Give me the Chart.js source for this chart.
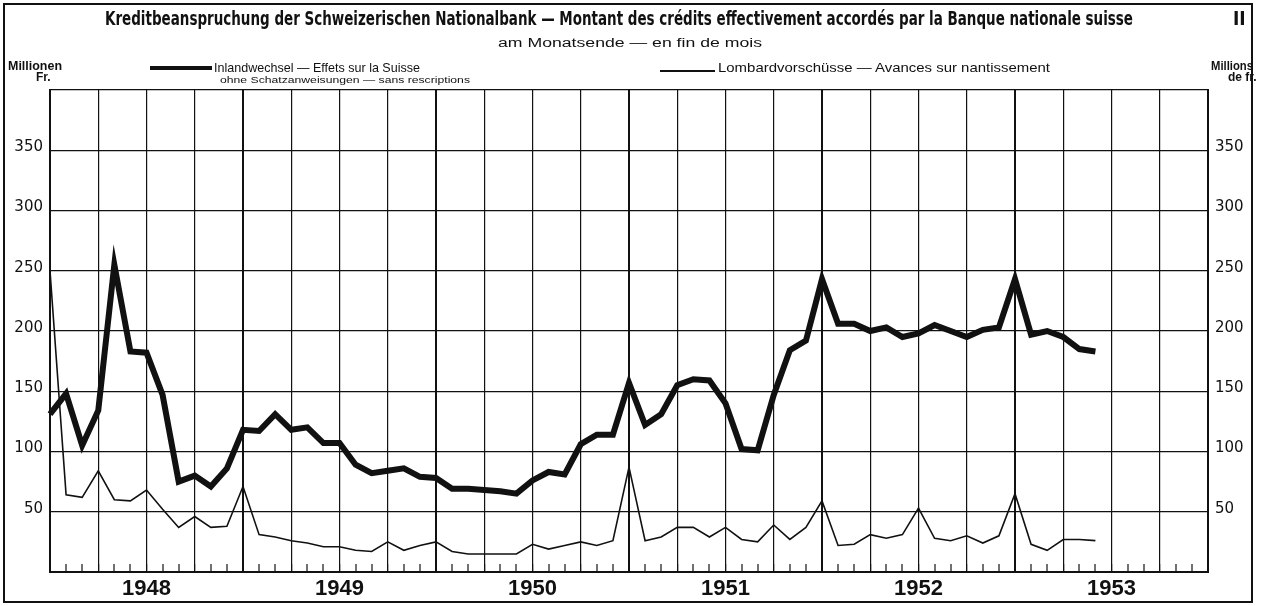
<!DOCTYPE html>
<html lang="de">
<head>
<meta charset="utf-8">
<title>Kreditbeanspruchung der Schweizerischen Nationalbank</title>
<script src="https://cdn.jsdelivr.net/npm/chart.js@4.4.1/dist/chart.umd.min.js"></script>
<style>
  html, body { margin: 0; padding: 0; background: #fff; }
  #blatt { position: relative; width: 1265px; height: 606px; overflow: hidden; color: #111;
           font-family: "Liberation Sans", Arial, sans-serif; }
  #rahmen { position: absolute; left: 3px; top: 3px; width: 1246px; height: 596px; border: 2px solid #111; }
  #grafik { position: absolute; left: 0; top: 0; }
  .txt { position: absolute; white-space: nowrap; line-height: 1; transform-origin: 0 0; }
  .titel { font-family: "Liberation Sans Narrow", "DejaVu Sans Condensed", sans-serif; font-weight: bold; font-size: 19px; }
  .linie { position: absolute; background: #111; }
</style>
</head>
<body>
<div id="blatt">
  <canvas id="grafik" width="1265" height="606"></canvas>
  <div id="rahmen"></div>

  <div class="txt titel" style="left:105px; top:9px" data-w="1028">Kreditbeanspruchung der Schweizerischen Nationalbank — Montant des crédits effectivement accordés par la Banque nationale suisse</div>
  <div class="txt titel" style="left:1233px; top:9px">II</div>
  <div class="txt" style="left:498px; top:37px; font-size:12px" data-w="264">am Monatsende — en fin de mois</div>

  <div class="txt" style="left:8px; top:60px; font-size:12px; font-weight:bold" data-w="54">Millionen</div>
  <div class="txt" style="left:36px; top:71px; font-size:12px; font-weight:bold">Fr.</div>

  <div class="linie" style="left:150px; top:66px; width:62px; height:4px"></div>
  <div class="txt" style="left:214px; top:61px; font-size:13px" data-w="206">Inlandwechsel — Effets sur la Suisse</div>
  <div class="txt" style="left:220px; top:76px; font-size:9px" data-w="250">ohne Schatzanweisungen — sans rescriptions</div>

  <div class="linie" style="left:660px; top:70px; width:55px; height:1.5px"></div>
  <div class="txt" style="left:718px; top:61px; font-size:13px" data-w="332">Lombardvorschüsse — Avances sur nantissement</div>

  <div class="txt" style="left:1211px; top:60px; font-size:12px; font-weight:bold" data-w="42">Millions</div>
  <div class="txt" style="left:1228px; top:71px; font-size:12px; font-weight:bold">de fr.</div>
</div>

<script>
// Jahre auf der Zeitachse
const jahre = ["1948", "1949", "1950", "1951", "1952", "1953"];

// Monatsende Dez. 1947 bis Dez. 1953
const monate = ["1947-12"];
jahre.forEach(j => {
  for (let m = 1; m <= 12; m++) monate.push(j + "-" + String(m).padStart(2, "0"));
});

// Beschriftete Werte der Y-Achse (Millionen Fr.)
const yWerte = [50, 100, 150, 200, 250, 300, 350];

// Inlandwechsel, Dez. 1947 - Mai 1953
const inlandwechsel = [
  131, 148, 105, 134, 255, 183, 182, 147, 75, 80, 71, 86, 118,
  117, 131, 118, 120, 107, 107, 89, 82, 84, 86, 79, 78,
  69, 69, 68, 67, 65, 76, 83, 81, 106, 114, 114, 157,
  122, 131, 155, 160, 159, 140, 102, 101, 147, 184, 192, 243,
  206, 206, 200, 203, 195, 198, 205, 200, 195, 201, 203, 243,
  197, 200, 195, 185, 183
];

// Lombardvorschüsse, Dez. 1947 - Mai 1953
const lombard = [
  250, 64, 62, 84, 60, 59, 68, 52, 37, 46, 37, 38, 71,
  31, 29, 26, 24, 21, 21, 18, 17, 25, 18, 22, 25,
  17, 15, 15, 15, 15, 23, 19, 22, 25, 22, 26, 87,
  26, 29, 37, 37, 29, 37, 27, 25, 39, 27, 37, 59,
  22, 23, 31, 28, 31, 53, 28, 26, 30, 24, 30, 65,
  23, 18, 27, 27, 26
];

const schwarz = "#111";

function yAchse(position, breite) {
  return {
    position,
    min: 0,
    max: 400,
    ticks: {
      stepSize: 50,
      padding: 7,
      labelOffset: -3,
      color: schwarz,
      font: { family: "DejaVu Sans", size: 15 },
      callback: v => yWerte.includes(v) ? String(v) : ""
    },
    grid: {
      display: position === "left",
      color: schwarz,
      lineWidth: 1.2,
      drawTicks: false
    },
    border: { display: true, color: schwarz, width: 2 },
    afterFit: s => { s.width = breite; }
  };
}

new Chart(document.getElementById("grafik"), {
  type: "line",
  data: {
    labels: monate,
    datasets: [
      {
        label: "Inlandwechsel — Effets sur la Suisse",
        data: inlandwechsel,
        borderColor: schwarz,
        borderWidth: 6,
        borderJoinStyle: "miter",
        pointRadius: 0,
        tension: 0,
        yAxisID: "y"
      },
      {
        label: "Lombardvorschüsse — Avances sur nantissement",
        data: lombard,
        borderColor: schwarz,
        borderWidth: 1.6,
        borderJoinStyle: "miter",
        pointRadius: 0,
        tension: 0,
        yAxisID: "y"
      }
    ]
  },
  options: {
    responsive: false,
    devicePixelRatio: 1,
    animation: false,
    layout: { padding: { top: 90, left: 0, right: 0, bottom: 0 } },
    plugins: {
      legend: { display: false },
      tooltip: { enabled: false }
    },
    scales: {
      x: {
        type: "category",
        offset: false,
        grid: {
          color: schwarz,
          lineWidth: c => c.index % 12 === 0 ? 2 : (c.index % 3 === 0 ? 1.2 : 0),
          drawTicks: true,
          tickLength: -8,
          tickWidth: 1.2,
          tickColor: schwarz
        },
        border: { display: true, color: schwarz, width: 2 },
        ticks: {
          autoSkip: false,
          maxRotation: 0,
          minRotation: 0,
          padding: 12,
          color: schwarz,
          font: { family: "Liberation Sans", size: 22, weight: "bold" },
          callback: (v, i) => i % 12 === 6 ? jahre[(i - 6) / 12] : ""
        },
        afterFit: s => { s.height = 34; }
      },
      y: yAchse("left", 50),
      y2: yAchse("right", 57)
    }
  }
});

// Kopftexte auf die Breite der Vorlage bringen
document.querySelectorAll(".txt[data-w]").forEach(el => {
  const w = el.getBoundingClientRect().width;
  el.style.transform = "scaleX(" + (Number(el.dataset.w) / w) + ")";
});
</script>
</body>
</html>
